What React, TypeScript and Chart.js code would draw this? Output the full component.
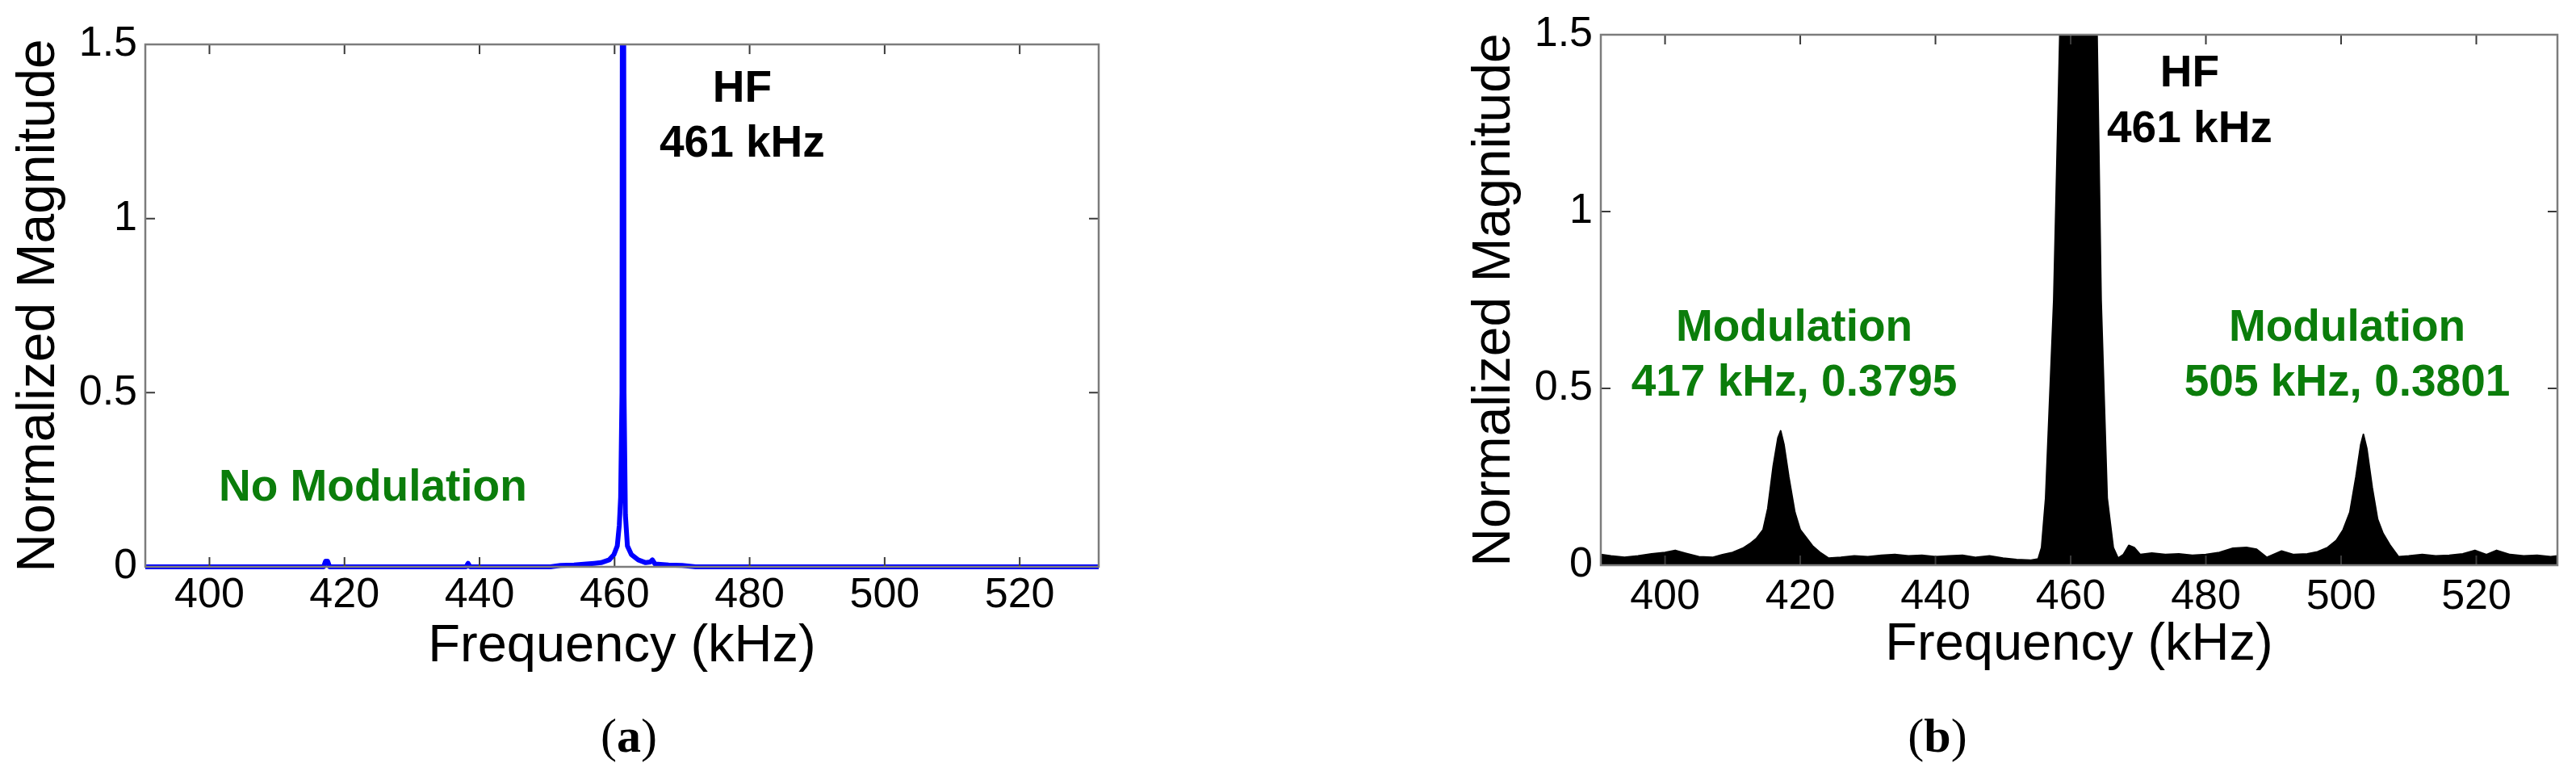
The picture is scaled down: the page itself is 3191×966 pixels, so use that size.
import React, { useEffect, useRef } from "react";
import { Chart, registerables } from "chart.js";

Chart.register(...registerables);

// ---------- shared axis definitions ----------
const X_TICKS = [400, 420, 440, 460, 480, 500, 520];
const Y_TICKS = [0, 0.5, 1, 1.5];
const Y_TICK_LABELS = ["0", "0.5", "1", "1.5"];
const X_TITLE = "Frequency (kHz)";
const Y_TITLE = "Normalized Magnitude";

// ---------- panel (a): no modulation ----------
const freqA = [
  390.5, 416.9, 417.2, 417.5, 417.8, 438.0, 438.3, 438.6, 450.5, 452, 454, 455.8,
  457, 458, 459.2, 459.9, 460.4, 460.7, 460.9, 461.1, 461.25, 461.4, 461.6, 461.9,
  462.5, 463.5, 464.6, 465.3, 465.6, 466, 468, 470, 472, 531.7,
];
const magA = [
  0, 0, 0.016, 0.016, 0, 0, 0.01, 0, 0, 0.004, 0.005, 0.008,
  0.01, 0.012, 0.02, 0.035, 0.06, 0.12, 0.2, 0.5, 4, 0.5, 0.15, 0.06,
  0.035, 0.02, 0.012, 0.014, 0.02, 0.008, 0.005, 0.004, 0, 0,
];
const notesA = [
  { text: "HF", x: 478.9, y: 1.37, color: "#000000" },
  { text: "461 kHz", x: 478.9, y: 1.213, color: "#000000" },
  { text: "No Modulation", x: 424.2, y: 0.225, color: "#0b7d0b" },
];

// ---------- panel (b): with modulation ----------
const freqB = [
  390.5, 392, 394, 396, 398, 400, 401.5, 403, 405, 407, 408.5, 410, 411.5, 412.5,
  413.5, 414.5, 415.2, 416, 416.7, 417.1, 417.6, 418.3, 419.2, 420, 420.8, 421.8,
  423, 424.2, 426, 428, 430, 432, 434, 436, 438, 440, 442, 444, 446, 448, 450,
  452, 454, 455.2, 455.7, 456.3, 457.5, 458.4, 459, 461, 463.3, 463.9, 464.5,
  465.4, 466.3, 467, 467.8, 468.6, 469.4, 470.3, 472, 474, 476, 478, 480, 482,
  484, 486, 487.5, 489, 491.2, 493, 495, 496.5, 498, 499.3, 500.3, 501.3, 502.2,
  502.9, 503.3, 503.8, 504.6, 505.4, 506.2, 507.3, 508.5, 510, 512, 514, 516,
  518, 519.8, 521.5, 523, 525, 527, 529, 531, 532,
];
const magB = [
  0.03, 0.026, 0.022, 0.026, 0.032, 0.036, 0.042, 0.034, 0.024, 0.022, 0.03, 0.036, 0.048, 0.06,
  0.075, 0.1, 0.16, 0.28, 0.36, 0.38, 0.34, 0.25, 0.15, 0.1, 0.08, 0.055,
  0.035, 0.02, 0.022, 0.026, 0.024, 0.028, 0.03, 0.026, 0.028, 0.024, 0.026, 0.028, 0.022, 0.026, 0.02,
  0.016, 0.014, 0.018, 0.05, 0.19, 0.75, 1.5, 2.4, 3, 2.4, 1.5, 0.75,
  0.19, 0.05, 0.02, 0.03, 0.056, 0.05, 0.03, 0.034, 0.03, 0.032, 0.028, 0.03, 0.036,
  0.048, 0.05, 0.045, 0.022, 0.04, 0.03, 0.032, 0.038, 0.05, 0.07, 0.1, 0.15, 0.25,
  0.34, 0.37, 0.33, 0.22, 0.13, 0.09, 0.055, 0.024, 0.026, 0.03, 0.026, 0.028,
  0.032, 0.042, 0.03, 0.042, 0.03, 0.026, 0.028, 0.024, 0.026,
];
const notesB = [
  { text: "HF", x: 477.6, y: 1.388, color: "#000000" },
  { text: "461 kHz", x: 477.6, y: 1.231, color: "#000000" },
  { text: "Modulation", x: 419.1, y: 0.669, color: "#0b7d0b" },
  { text: "417 kHz, 0.3795", x: 419.1, y: 0.514, color: "#0b7d0b" },
  { text: "Modulation", x: 500.9, y: 0.669, color: "#0b7d0b" },
  { text: "505 kHz, 0.3801", x: 500.9, y: 0.514, color: "#0b7d0b" },
];

const SANS = '"Liberation Sans", Arial, Helvetica, sans-serif';

// ---------- plugins ----------
const framePlugin = {
  id: "matlabFrame",
  afterDatasetsDraw(chart: any) {
    const { ctx, chartArea, scales } = chart;
    const { left, right, top, bottom } = chartArea;
    const xs = scales.x;
    const ys = scales.y;
    const L = 12;
    ctx.save();
    ctx.lineWidth = 2;
    ctx.strokeStyle = "#3a3a3a";
    ctx.beginPath();
    for (const v of X_TICKS) {
      const px = xs.getPixelForValue(v);
      ctx.moveTo(px, bottom);
      ctx.lineTo(px, bottom - L);
      ctx.moveTo(px, top);
      ctx.lineTo(px, top + L);
    }
    for (const v of Y_TICKS) {
      const py = ys.getPixelForValue(v);
      ctx.moveTo(left, py);
      ctx.lineTo(left + L, py);
      ctx.moveTo(right, py);
      ctx.lineTo(right - L, py);
    }
    ctx.stroke();
    ctx.strokeStyle = "#7c7c7c";
    ctx.lineWidth = 2.5;
    ctx.strokeRect(left, top, right - left, bottom - top);
    ctx.restore();
  },
};

const notesPlugin = {
  id: "notes",
  afterDraw(chart: any, _args: any, opts: any) {
    const { ctx, scales } = chart;
    ctx.save();
    ctx.textAlign = "center";
    ctx.textBaseline = "middle";
    ctx.font = `bold ${opts.size || 56}px ${SANS}`;
    for (const n of opts.items || []) {
      ctx.fillStyle = n.color;
      ctx.fillText(n.text, scales.x.getPixelForValue(n.x), scales.y.getPixelForValue(n.y));
    }
    ctx.restore();
  },
};

type PanelProps = {
  left: number;
  width: number;
  freq: number[];
  mag: number[];
  xMax: number;
  top: number;
  right: number;
  bottom: number;
  color: string;
  filled: boolean;
  lineWidth: number;
  notes: any[];
  tickPadX: number;
};

function Panel(p: PanelProps) {
  const ref = useRef<HTMLCanvasElement | null>(null);
  useEffect(() => {
    if (!ref.current) return;
    const chart = new Chart(ref.current, {
      type: "line",
      data: {
        datasets: [
          {
            data: p.freq.map((f, i) => ({ x: f, y: p.mag[i] })),
            borderColor: p.color,
            backgroundColor: p.color,
            borderWidth: p.lineWidth,
            fill: p.filled ? "origin" : false,
            pointRadius: 0,
            tension: 0,
            borderJoinStyle: "round",
            clip: { left: 0, top: 0, right: 0, bottom: 6 },
          } as any,
        ],
      },
      options: {
        animation: false,
        responsive: false,
        devicePixelRatio: 1,
        layout: { padding: { left: 0, top: p.top, right: p.right, bottom: p.bottom } },
        plugins: {
          legend: { display: false },
          tooltip: { enabled: false },
          notes: { items: p.notes, size: 55 },
        } as any,
        scales: {
          x: {
            type: "linear",
            min: 390.5,
            max: p.xMax,
            afterFit: (s: any) => {
              s.height = 140;
            },
            afterBuildTicks: (s: any) => {
              s.ticks = X_TICKS.map((v) => ({ value: v }));
            },
            ticks: {
              autoSkip: false,
              maxRotation: 0,
              padding: p.tickPadX,
              color: "#000",
              font: { family: SANS, size: 52 },
              callback: (v: any) => String(v),
            },
            grid: { display: false, drawTicks: false },
            border: { display: false },
            title: {
              display: true,
              text: X_TITLE,
              color: "#000",
              font: { family: SANS, size: 65 },
              padding: { top: 0, bottom: 2 },
            },
          },
          y: {
            type: "linear",
            min: 0,
            max: 1.5,
            afterFit: (s: any) => {
              s.width = 180;
            },
            afterBuildTicks: (s: any) => {
              s.ticks = Y_TICKS.map((v) => ({ value: v }));
            },
            ticks: {
              padding: 10,
              color: "#000",
              font: { family: SANS, size: 52 },
              callback: (_v: any, i: number) => Y_TICK_LABELS[i],
            },
            grid: { display: false, drawTicks: false },
            border: { display: false },
            title: {
              display: true,
              text: Y_TITLE,
              color: "#000",
              font: { family: SANS, size: 66 },
              padding: { top: 9, bottom: 0 },
            },
          },
        },
      } as any,
      plugins: [framePlugin, notesPlugin],
    });
    return () => chart.destroy();
  }, []);
  return (
    <canvas
      ref={ref}
      width={p.width}
      height={966}
      style={{ position: "absolute", left: p.left, top: 0, width: p.width, height: 966 }}
    />
  );
}

const captionStyle: React.CSSProperties = {
  position: "absolute",
  top: 881,
  width: 200,
  textAlign: "center",
  fontFamily: '"Liberation Serif", "Times New Roman", serif',
  fontSize: 60,
  lineHeight: "60px",
  color: "#000",
};

export default function App() {
  return (
    <div
      style={{
        position: "absolute",
        left: 0,
        top: 0,
        width: 3191,
        height: 966,
        background: "#ffffff",
        overflow: "hidden",
      }}
    >
      <Panel
        left={0}
        width={1500}
        freq={freqA}
        mag={magA}
        xMax={531.7}
        top={55}
        right={139}
        bottom={124}
        color="#0000ff"
        filled={false}
        lineWidth={6}
        notes={notesA}
        tickPadX={4}
      />
      <Panel
        left={1803}
        width={1388}
        freq={freqB}
        mag={magB}
        xMax={532}
        top={43}
        right={23}
        bottom={126}
        color="#000000"
        filled={true}
        lineWidth={2}
        notes={notesB}
        tickPadX={8}
      />
      <div style={{ ...captionStyle, left: 779 - 100 }}>
        (<b>a</b>)
      </div>
      <div style={{ ...captionStyle, left: 2400 - 100 }}>
        (<b>b</b>)
      </div>
    </div>
  );
}
